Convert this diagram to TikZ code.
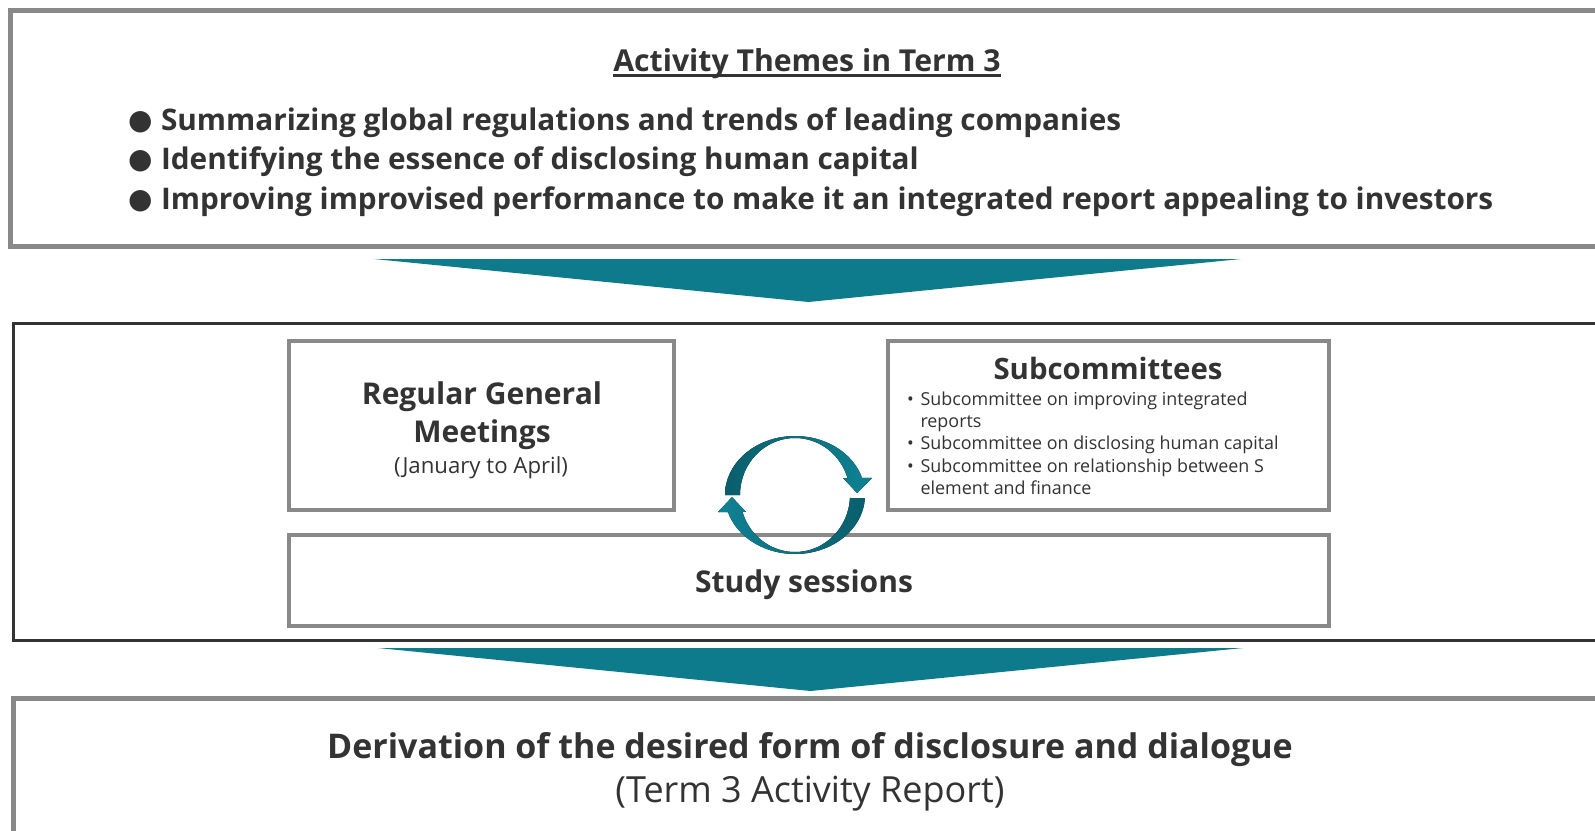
\documentclass[tikz,border=0pt]{standalone}
\usepackage{fontspec}
\IfFontExistsTF{Open Sans SemiBold}
  {\setmainfont{Open Sans}[BoldFont={Open Sans SemiBold}]}
  {\setmainfont{Open Sans}}
\newfontfamily\symfont{DejaVu Sans}
\definecolor{ink}{RGB}{51,51,51}
\definecolor{framegray}{RGB}{137,137,137}
\definecolor{framedark}{RGB}{51,51,51}
\definecolor{teal}{RGB}{14,123,140}
\definecolor{tealdark}{RGB}{10,94,108}
\definecolor{teallight}{RGB}{15,130,148}
\newcommand{\fs}[1]{\fontsize{#1}{#1}\selectfont}
\newcommand{\bigdot}{\makebox[33pt][l]{\raisebox{1pt}{\symfont\fs{28}●}}}
\newcommand{\smalldot}{\makebox[14.5pt][l]{\hspace{1pt}•}}
\begin{document}
\begin{tikzpicture}[x=1pt,y=-1pt,
  graybox/.style={draw=framegray, line width=5pt, outer sep=0pt, inner sep=0pt, fill=white},
  innerbox/.style={draw=framegray, line width=4pt, outer sep=0pt, inner sep=0pt, fill=white},
  darkbox/.style={draw=framedark, line width=3.5pt, outer sep=0pt, inner sep=0pt, fill=white},
  label/.style={text=ink, inner sep=0pt, outer sep=0pt},
  theme/.style={label, font=\bfseries\fs{29.75}, anchor=base west},
  subitem/.style={label, font=\fs{17.9}, anchor=base west},
  chevron/.style={fill=teal, draw=none},
]
\useasboundingbox (0,0) rectangle (1595,830);
\clip (0,0) rectangle (1595,830);

% outer frames (they run past the right edge)
\node[graybox, minimum width=1609.5, minimum height=236] (themes) at (815.25,128) {};
\node[darkbox, minimum width=1606.5, minimum height=317] (process) at (816.75,482) {};
\node[graybox, minimum width=1607, minimum height=170] (result) at (816.5,783) {};

% themes
\node[label, font=\bfseries\fs{30.2}, anchor=base] (title) at (807,71) {Activity Themes in Term 3};
\draw[ink, line width=2.2pt] ([yshift=-4.5pt]title.base west) -- ([yshift=-4.5pt]title.base east);
\node[theme] (th1) at (128,130) {\bigdot Summarizing global regulations and trends of leading companies};
\node[theme] (th2) at (128,169) {\bigdot Identifying the essence of disclosing human capital};
\node[theme] (th3) at (128,209) {\bigdot Improving improvised performance to make it an integrated report appealing to investors};

% chevrons between the frames
\path[chevron] (374,259) -- (1241,259) -- (808.5,302) -- cycle;
\path[chevron] (378,648) -- (1243,648) -- (810.5,691) -- cycle;

% activities
\node[innerbox, minimum width=385, minimum height=169] (meet) at (481.5,425.5) {};
\node[innerbox, minimum width=441, minimum height=169] (subc) at (1108.5,425.5) {};
\node[innerbox, minimum width=1040, minimum height=91] (study) at (809,580.5) {};

\node[label, font=\bfseries\fs{30}, anchor=base] (meet1) at (482,404) {Regular General};
\node[label, font=\bfseries\fs{30}, anchor=base] (meet2) at (482,442) {Meetings};
\node[label, font=\fs{22.2}, anchor=base] (meet3) at (481,473) {(January to April)};

\node[label, font=\bfseries\fs{29.4}, anchor=base] (subt) at (1108,379) {Subcommittees};
\node[subitem] (sub1) at (906,405) {\smalldot Subcommittee on improving integrated};
\node[subitem] (sub1b) at (920.5,427.4) {reports};
\node[subitem] (sub2) at (906,449.8) {\smalldot Subcommittee on disclosing human capital};
\node[subitem] (sub3) at (906,472.2) {\smalldot Subcommittee on relationship between S};
\node[subitem] (sub3b) at (920.5,494.6) {element and finance};

\node[label, font=\bfseries\fs{30}, anchor=base] (studyt) at (804,592) {Study sessions};

% cycle between meetings and subcommittees
\fill[left color=tealdark, right color=teallight]
  plot[domain=180:17, samples=60, variable=\t] ({795+70*cos(\t)},{495-59*sin(\t)})
  -- (872,478) -- (857,493) -- (843,478)
  -- plot[domain=17:180, samples=60, variable=\t] ({795+55*cos(\t)},{495-57*sin(\t)})
  -- cycle;
\fill[left color=teallight, right color=tealdark]
  plot[domain=-3:-163, samples=60, variable=\t] ({795+70*cos(\t)},{495-59*sin(\t)})
  -- (718,512) -- (732,497) -- (746,512)
  -- plot[domain=-163:-3, samples=60, variable=\t] ({795+55*cos(\t)},{495-57*sin(\t)})
  -- cycle;

% outcome
\node[label, font=\bfseries\fs{34}, anchor=base] (res1) at (810,758) {Derivation of the desired form of disclosure and dialogue};
\node[label, font=\fs{36}, anchor=base] (res2) at (810,802) {(Term 3 Activity Report)};
\end{tikzpicture}
\end{document}
